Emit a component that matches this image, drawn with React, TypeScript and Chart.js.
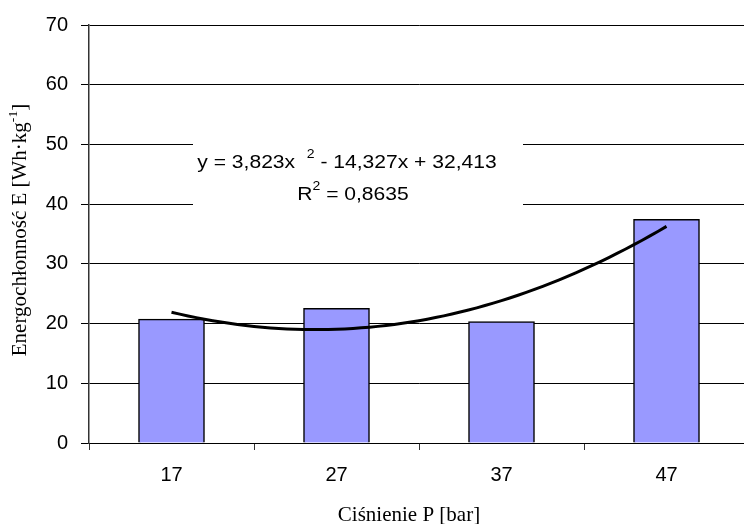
import React, { useEffect, useRef } from "react";
import { Chart, registerables } from "chart.js";

Chart.register(...registerables);

const categories = ["17", "27", "37", "47"];
const energyValues = [20.74, 22.56, 20.33, 37.44];
const yTicks = [0, 10, 20, 30, 40, 50, 60, 70];
// Trendline coefficients printed on the chart: y = a*x^2 + b*x + c (x = category index 1..4)
const trendCoefficients = [3.823, -14.327, 32.413];
const rSquared = "0,8635";

const W = 770;
const H = 524;

function trendPoints() {
  const pts: { x: number; y: number }[] = [];
  const [a, b, c] = trendCoefficients;
  for (let i = 0; i <= 60; i++) {
    const x = 1 + (3 * i) / 60;
    pts.push({ x, y: a * x * x + b * x + c });
  }
  return pts;
}

function drawRuns(
  ctx: CanvasRenderingContext2D,
  runs: { t: string; font: string; dy: number }[],
  cx: number,
  baseline: number,
  sx: number
) {
  let total = 0;
  const widths = runs.map((r) => {
    ctx.font = r.font;
    const w = ctx.measureText(r.t).width;
    total += w;
    return w;
  });
  ctx.save();
  ctx.translate(cx, baseline);
  ctx.scale(sx, 1);
  let x = -total / 2;
  runs.forEach((r, i) => {
    ctx.font = r.font;
    ctx.fillText(r.t, x, r.dy);
    x += widths[i];
  });
  ctx.restore();
}

const overlayPlugin = {
  id: "overlay",
  afterDraw(chart: any) {
    const ctx = chart.ctx as CanvasRenderingContext2D;
    ctx.save();
    // equation box
    ctx.fillStyle = "#ffffff";
    ctx.fillRect(193, 136, 330, 76);
    ctx.fillStyle = "#000000";
    ctx.textBaseline = "alphabetic";
    ctx.textAlign = "left";
    const big = "18px 'Liberation Sans', Arial, sans-serif";
    const small = "12px 'Liberation Sans', Arial, sans-serif";
    drawRuns(
      ctx,
      [
        { t: "y = 3,823x  ", font: big, dy: 0 },
        { t: "2", font: small, dy: -10 },
        { t: " - 14,327x + 32,413", font: big, dy: 0 },
      ],
      347,
      168,
      1.17
    );
    drawRuns(
      ctx,
      [
        { t: "R", font: big, dy: 0 },
        { t: "2", font: small, dy: -10 },
        { t: " = " + rSquared, font: big, dy: 0 },
      ],
      353,
      200,
      1.17
    );

    // y axis title (rotated)
    const serif = "20px 'Liberation Serif', 'Times New Roman', serif";
    const serifSmall = "13px 'Liberation Serif', 'Times New Roman', serif";
    ctx.save();
    ctx.translate(26, 230);
    ctx.rotate(-Math.PI / 2);
    drawRuns(
      ctx,
      [
        { t: "Energochłonność E [Wh·kg", font: serif, dy: 0 },
        { t: "-1", font: serifSmall, dy: -9 },
        { t: "]", font: serif, dy: 0 },
      ],
      0,
      0,
      1.05
    );
    ctx.restore();

    // x axis title
    ctx.font = "21px 'Liberation Serif', 'Times New Roman', serif";
    ctx.textAlign = "center";
    ctx.fillText("Ciśnienie P [bar]", 409, 521);
    ctx.restore();
  },
};

export default function App() {
  const ref = useRef<HTMLCanvasElement | null>(null);
  useEffect(() => {
    if (!ref.current) return;
    const chart = new Chart(ref.current, {
      type: "bar",
      data: {
        labels: categories,
        datasets: [
          {
            type: "bar",
            data: energyValues,
            backgroundColor: "#9999ff",
            borderColor: "#000000",
            borderWidth: 1.5,
            barThickness: 66,
            grouped: false,
            order: 2,
          } as any,
          {
            type: "line",
            data: trendPoints() as any,
            xAxisID: "xl",
            borderColor: "#000000",
            borderWidth: 3,
            pointRadius: 0,
            fill: false,
            tension: 0,
            order: 1,
          } as any,
        ],
      },
      options: {
        animation: false,
        responsive: false,
        maintainAspectRatio: false,
        layout: { padding: { left: 0, top: 25, right: W - 749, bottom: 0 } },
        plugins: {
          legend: { display: false },
          tooltip: { enabled: false },
          title: { display: false },
        },
        scales: {
          x: {
            type: "category",
            offset: true,
            grid: {
              offset: true,
              drawOnChartArea: false,
              drawTicks: true,
              tickLength: 7,
              color: "#333333",
              lineWidth: 1,
            },
            border: { color: "#000000", width: 1 },
            ticks: {
              color: "#000000",
              font: { family: "'Liberation Sans', Arial, sans-serif", size: 20 },
              padding: 13,
            },
            afterFit(scale: any) {
              scale.height = H - 443;
            },
          },
          xl: {
            type: "linear",
            display: false,
            offset: false,
            min: 0.5,
            max: 4.5,
          },
          y: {
            type: "linear",
            min: 0,
            max: 70,
            afterBuildTicks(scale: any) {
              scale.ticks = yTicks.map((v) => ({ value: v }));
            },
            grid: {
              color: "#000000",
              lineWidth: 1,
              tickLength: 8,
              drawTicks: true,
            },
            border: { color: "#333333", width: 1.5 },
            ticks: {
              color: "#000000",
              font: { family: "'Liberation Sans', Arial, sans-serif", size: 20 },
              padding: 13,
            },
            afterFit(scale: any) {
              scale.width = 89;
            },
          },
        },
      },
      plugins: [overlayPlugin],
    });
    return () => chart.destroy();
  }, []);
  return (
    <div
      style={{
        position: "fixed",
        left: 0,
        top: 0,
        width: 744,
        height: 524,
        overflow: "hidden",
        background: "#ffffff",
      }}
    >
      <canvas ref={ref} width={W} height={H} style={{ width: W, height: H, display: "block" }} />
    </div>
  );
}
